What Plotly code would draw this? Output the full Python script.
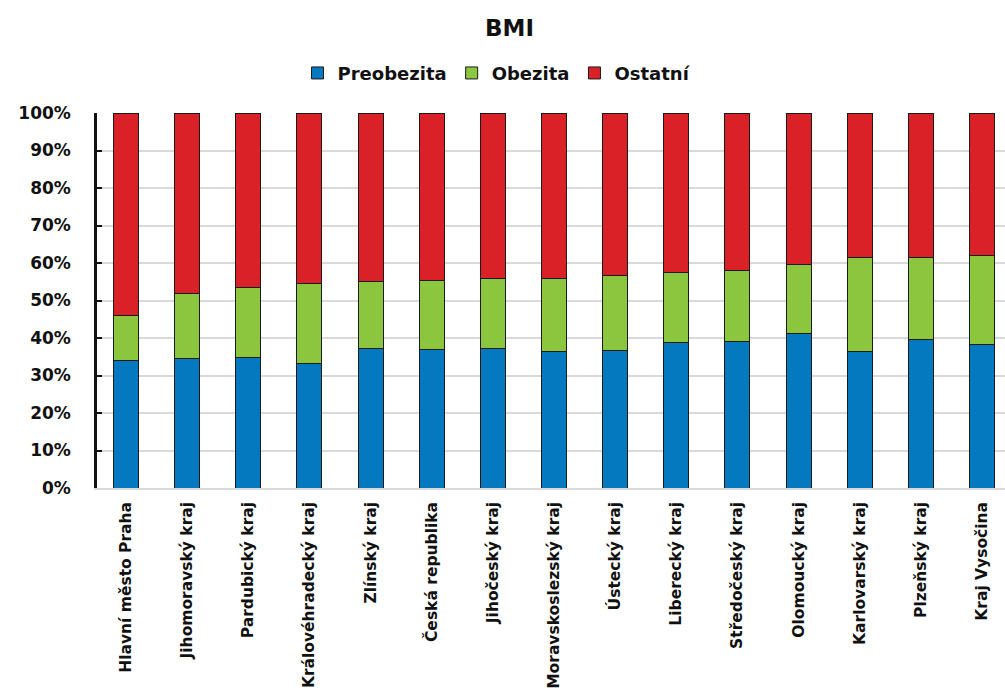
import plotly.graph_objects as go

# Regions (and the national total), ordered by share of overweight + obese
regions = [
    "Hlavní město Praha", "Jihomoravský kraj", "Pardubický kraj",
    "Královéhradecký kraj", "Zlínský kraj", "Česká republika",
    "Jihočeský kraj", "Moravskoslezský kraj", "Ústecký kraj",
    "Liberecký kraj", "Středočeský kraj", "Olomoucký kraj",
    "Karlovarský kraj", "Plzeňský kraj", "Kraj Vysočina",
]

# Shares in percent
preobezita = [33.9, 34.5, 34.8, 33.1, 37.3, 36.9, 37.3, 36.3, 36.7, 38.7, 39.0, 41.3, 36.4, 39.7, 38.4]
obezita = [12.1, 17.5, 18.7, 21.5, 17.9, 18.5, 18.7, 19.7, 19.9, 18.9, 18.9, 18.3, 25.1, 21.8, 23.5]
ostatni = [round(100 - p - o, 1) for p, o in zip(preobezita, obezita)]

series = [
    ("Preobezita", preobezita, "#0579c0"),
    ("Obezita", obezita, "#8cc63f"),
    ("Ostatní", ostatni, "#da2128"),
]

y_ticks = list(range(0, 101, 10))
FONT = "DejaVu Sans, Verdana, sans-serif"

fig = go.Figure()
for name, values, color in series:
    fig.add_trace(go.Bar(
        x=regions, y=values, name=f"<b>{name}</b>", width=0.41,
        marker=dict(color=color, line=dict(color="#1a1a1a", width=1)),
    ))

fig.update_layout(
    barmode="stack",
    width=1005, height=696,
    margin=dict(l=97, r=0, t=113, b=208),
    paper_bgcolor="white", plot_bgcolor="white",
    title=dict(text="<b>BMI</b>", x=0.507, xanchor="center", y=0.96, yanchor="middle",
               font=dict(family=FONT, size=23, color="#111")),
    legend=dict(orientation="h", x=0.44, xanchor="center", y=1.106, yanchor="middle",
                font=dict(family=FONT, size=18, color="#111"),
                itemwidth=30, traceorder="normal", tracegroupgap=0),
    font=dict(family=FONT, color="#111"),
)

fig.update_yaxes(
    range=[0, 100], tickvals=y_ticks, ticktext=[f"<b>{v}%</b>" for v in y_ticks],
    tickfont=dict(family=FONT, size=17, color="#111"),
    showgrid=True, gridcolor="#d9d9d9", gridwidth=1.5,
    showline=True, linecolor="#111", linewidth=2.5,
    ticks="inside", ticklen=5, tickwidth=2, tickcolor="#111",
    zeroline=False, ticklabelstandoff=20,
)
fig.update_xaxes(
    range=[-0.474, 14.376],
    tickvals=regions, ticktext=[f"<b>{r}</b>" for r in regions],
    tickangle=-90,
    tickfont=dict(family=FONT, size=15.5, color="#111"),
    showline=True, linecolor="#d9d9d9", linewidth=1.5,
    showgrid=False, ticks="", ticklabelstandoff=6,
)

fig.write_html("out.html")
